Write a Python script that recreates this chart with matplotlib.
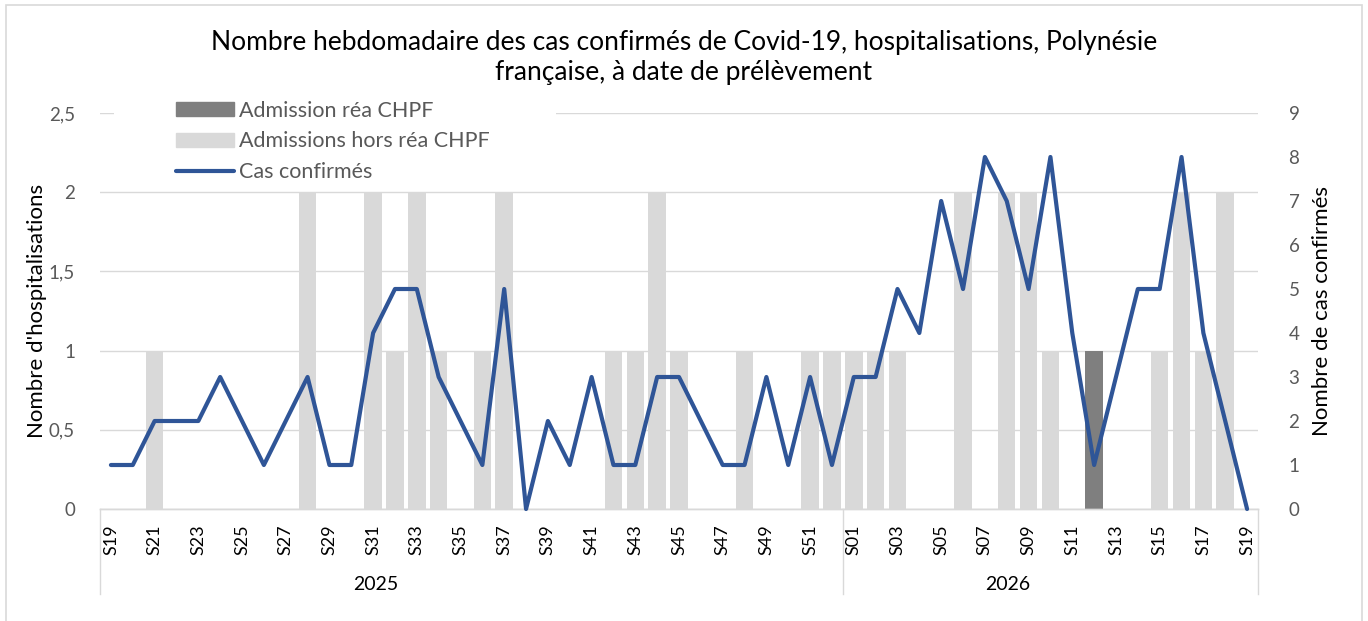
import matplotlib
matplotlib.use("Agg")
import matplotlib.pyplot as plt
from matplotlib.patches import Rectangle, Patch
from matplotlib.lines import Line2D
import matplotlib.transforms as mtransforms

plt.rcParams['font.family'] = ['Lato', 'DejaVu Sans']

# --- données ---
annees = ['2025', '2026']
semaines_2025 = ['S%02d' % s for s in range(19, 53)]
semaines_2026 = ['S%02d' % s for s in range(1, 20)]
semaines = semaines_2025 + semaines_2026

cas_confirmes = [1, 1, 2, 2, 2, 3, 2, 1, 2, 3, 1, 1, 4, 5, 5, 3, 2, 1, 5, 0,
                 2, 1, 3, 1, 1, 3, 3, 2, 1, 1, 3, 1, 3, 1,
                 3, 3, 5, 4, 7, 5, 8, 7, 5, 8, 4, 1, 3, 5, 5, 8, 4, 2, 0]
hors_rea = [0, 0, 1, 0, 0, 0, 0, 0, 0, 2, 0, 0, 2, 1, 2, 1, 0, 1, 2, 0,
            0, 0, 0, 1, 1, 2, 1, 0, 0, 1, 0, 0, 1, 1,
            1, 1, 1, 0, 0, 2, 0, 2, 2, 1, 0, 0, 0, 0, 1, 2, 1, 2, 0]
rea = [0] * 34 + [0, 0, 0, 0, 0, 0, 0, 0, 0, 0, 0, 1, 0, 0, 0, 0, 0, 0, 0]

BLEU = '#2F5597'
GRIS_FONCE = '#7F7F7F'
GRIS_CLAIR = '#D9D9D9'
GRILLE = '#D9D9D9'
TXT = '#595959'

W, H = 1368, 621
fig = plt.figure(figsize=(W / 100, H / 100), dpi=100)
ax = fig.add_axes([100 / W, 1 - 509 / H, (1258 - 100) / W, (509 - 113) / H])
ax2 = ax.twinx()

x = list(range(len(semaines)))
ax.bar(x, rea, width=0.8, color=GRIS_FONCE, zorder=2)
ax.bar(x, hors_rea, width=0.8, bottom=rea, color=GRIS_CLAIR, zorder=2)
ax2.plot(x, cas_confirmes, color=BLEU, lw=3.0, solid_joinstyle='round',
         solid_capstyle='round', zorder=3, clip_on=False)

ax.set_xlim(-0.5, len(semaines) - 0.5)
ax.set_ylim(0, 2.5)
ax2.set_ylim(0, 9)

yt = [0, 0.5, 1, 1.5, 2, 2.5]
ax.set_yticks(yt)
ax.set_yticklabels([('%g' % v).replace('.', ',') for v in yt])
ax2.set_yticks(range(10))
ax.yaxis.grid(True, color=GRILLE, lw=1.0, zorder=0)
ax.set_axisbelow(True)

ax.tick_params(axis='y', length=0, pad=18, labelsize=13.5, labelcolor=TXT)
ax2.tick_params(axis='y', length=0, pad=22, labelsize=13.5, labelcolor=TXT)

ax.set_xticks(x[::2])
ax.set_xticklabels(semaines[::2], rotation=90, fontsize=13)
ax.tick_params(axis='x', length=0, pad=11)

for a in (ax, ax2):
    for s in ('top', 'left', 'right'):
        a.spines[s].set_visible(False)
    a.spines['bottom'].set_color(GRILLE)
    a.spines['bottom'].set_linewidth(1.0)

ax.set_ylabel("Nombre d'hospitalisations", fontsize=16, labelpad=1)
ax2.set_ylabel('Nombre de cas confirmés', fontsize=16, labelpad=9)

# séparateurs des années
trans = mtransforms.blended_transform_factory(ax.transData, ax.transAxes)
bornes = [-0.5, len(semaines_2025) - 0.5, len(semaines) - 0.5]
for b in bornes:
    ax.plot([b, b], [0, -85 / 396], transform=trans, color=GRILLE, lw=1.0,
            clip_on=False)
for an, pos in zip(annees, [12.1, 41.05]):
    ax.text(pos, -75 / 396, an, transform=trans, ha='center', va='center',
            fontsize=14)

# fond blanc de la légende
fig.add_artist(Rectangle((114 / W, 1 - 188 / H), (556 - 114) / W, 90 / H,
                         transform=fig.transFigure, facecolor='white',
                         edgecolor='none', zorder=1.5))
ax.set_zorder(1)
ax2.set_zorder(2)

handles = [Patch(color=GRIS_FONCE), Patch(color=GRIS_CLAIR),
           Line2D([], [], color=BLEU, lw=3.0, solid_capstyle='round')]
labels = ['Admission réa CHPF', 'Admissions hors réa CHPF', 'Cas confirmés']
leg = ax2.legend(handles, labels, loc='upper left', frameon=False,
                 bbox_to_anchor=(167 / W, 1 - 92 / H),
                 bbox_transform=fig.transFigure, fontsize=15.5,
                 handlelength=2.7, handleheight=0.6, handletextpad=0.25,
                 labelspacing=0.5, borderaxespad=0)
for t in leg.get_texts():
    t.set_color(TXT)

fig.suptitle('Nombre hebdomadaire des cas confirmés de Covid-19, hospitalisations, Polynésie\n'
             'française, à date de prélèvement', y=1 - 30 / H, fontsize=19,
             linespacing=1.25)

# cadre du graphique
fig.add_artist(Rectangle((6 / W, -0.01), (1362 - 6) / W, 1 - 5 / H + 0.01,
                         transform=fig.transFigure, facecolor='none',
                         edgecolor=GRILLE, lw=1.2))

fig.savefig('out.png', dpi=100)
